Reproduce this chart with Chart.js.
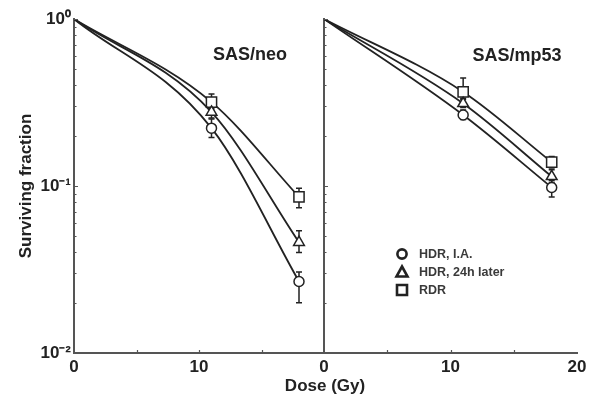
<!DOCTYPE html>
<html>
<head>
<meta charset="utf-8">
<script src="https://cdn.jsdelivr.net/npm/chart.js@4.4.0/dist/chart.umd.min.js"></script>
<style>
  html, body { margin: 0; padding: 0; background: #fff; }
  #wrap { position: relative; width: 592px; height: 394px; }
  #wrap canvas { position: absolute; left: 0; top: 0; }
</style>
</head>
<body>
<div id="wrap">
  <canvas id="neoChart" width="592" height="394"></canvas>
  <canvas id="mp53Chart" width="592" height="394"></canvas>
</div>
<script>
// dose points (Gy)
const doses = [0, 11, 18];
const seriesNames = ["HDR, I.A.", "HDR, 24h later", "RDR"];
const pointStyles = ["circle", "triangle", "rect"];

// SAS/neo surviving fraction
const neoHdrIA = [1, 0.222, 0.0268];
const neoHdr24 = [1, 0.277, 0.046];
const neoRdr = [1, 0.318, 0.086];
// error bars [low, high]
const neoHdrIAErr = [null, [0.195, 0.252], [0.020, 0.0305]];
const neoHdr24Err = [null, [0.255, 0.30], [0.040, 0.054]];
const neoRdrErr = [null, [0.29, 0.355], [0.074, 0.097]];

// SAS/mp53 surviving fraction
const mp53HdrIA = [1, 0.266, 0.098];
const mp53Hdr24 = [1, 0.312, 0.114];
const mp53Rdr = [1, 0.366, 0.139];
const mp53HdrIAErr = [null, [0.25, 0.285], [0.086, 0.108]];
const mp53Hdr24Err = [null, [0.295, 0.335], [0.105, 0.125]];
const mp53RdrErr = [null, [0.33, 0.443], [0.128, 0.15]];

// axis ticks
const neoXTicks = [0, 10];
const mp53XTicks = [0, 10, 20];
const xMinorTicks = [5, 10, 15];
const yTickValues = [1, 0.1, 0.01];
const yTickLabels = ["10\u2070", "10\u207B\u00B9", "10\u207B\u00B2"];

const inkColor = "#222";
const axisColor = "#555";
const fontFamily = "'Liberation Sans', Arial, Helvetica, sans-serif";
const pointSizes = [5, 6.2, 7.2];

function isDecade(v) {
  return yTickValues.some(t => Math.abs(t - v) < 1e-9);
}

function buildDatasets(values, errors) {
  return values.map((vals, i) => ({
    label: seriesNames[i],
    data: doses.map((d, j) => ({ x: d, y: vals[j] })),
    errorBars: errors[i],
    borderColor: inkColor,
    borderWidth: 1.8,
    cubicInterpolationMode: "monotone",
    fill: false,
    pointStyle: pointStyles[i],
    pointRadius: doses.map((d, j) => (j === 0 ? 0 : pointSizes[i])),
    pointBackgroundColor: "#fff",
    pointBorderColor: inkColor,
    pointBorderWidth: 1.5
  }));
}

const errorBarPlugin = {
  id: "errorBars",
  beforeDatasetsDraw(chart) {
    const { ctx, scales: { x, y } } = chart;
    ctx.save();
    ctx.strokeStyle = inkColor;
    ctx.lineWidth = 1.5;
    chart.data.datasets.forEach(ds => {
      (ds.errorBars || []).forEach((e, j) => {
        if (!e) return;
        const px = x.getPixelForValue(ds.data[j].x);
        const lo = y.getPixelForValue(e[0]);
        const hi = y.getPixelForValue(e[1]);
        ctx.beginPath();
        ctx.moveTo(px, lo); ctx.lineTo(px, hi);
        ctx.moveTo(px - 3, lo); ctx.lineTo(px + 3, lo);
        ctx.moveTo(px - 3, hi); ctx.lineTo(px + 3, hi);
        ctx.stroke();
      });
    });
    ctx.restore();
  }
};

const innerTicksPlugin = {
  id: "innerTicks",
  afterDraw(chart) {
    const { ctx, chartArea: a, scales: { x, y } } = chart;
    ctx.save();
    ctx.strokeStyle = axisColor;
    ctx.lineWidth = 1.2;
    ctx.beginPath();
    y.ticks.forEach(t => {
      const py = Math.round(y.getPixelForValue(t.value)) + 0.5;
      ctx.moveTo(a.left, py);
      ctx.lineTo(a.left + (isDecade(t.value) ? 4 : 2.5), py);
    });
    xMinorTicks.forEach(v => {
      const px = Math.round(x.getPixelForValue(v)) + 0.5;
      ctx.moveTo(px, a.bottom);
      ctx.lineTo(px, a.bottom - 3);
    });
    ctx.stroke();
    ctx.restore();
  }
};

function drawMarker(ctx, style, cx, cy) {
  ctx.beginPath();
  if (style === "circle") {
    ctx.arc(cx, cy, 4.6, 0, Math.PI * 2);
  } else if (style === "triangle") {
    ctx.moveTo(cx, cy - 5.5);
    ctx.lineTo(cx + 5.5, cy + 4.5);
    ctx.lineTo(cx - 5.5, cy + 4.5);
    ctx.closePath();
  } else {
    ctx.rect(cx - 5, cy - 5, 10, 10);
  }
  ctx.stroke();
}

const decorPlugin = {
  id: "decor",
  afterDraw(chart, args, opts) {
    const { ctx, chartArea: a } = chart;
    ctx.save();
    ctx.fillStyle = inkColor;
    ctx.font = "bold 18px " + fontFamily;
    ctx.textAlign = "center";
    ctx.textBaseline = "alphabetic";
    ctx.fillText(opts.title, a.left + opts.titleDx, a.top + opts.titleDy);

    if (opts.xTitle) {
      ctx.font = "bold 17px " + fontFamily;
      ctx.fillText(opts.xTitle, opts.xTitleX, opts.xTitleY);
    }

    if (opts.legend) {
      const mx = a.left + 78;
      seriesNames.forEach((name, i) => {
        const py = a.top + 235 + i * 18;
        ctx.strokeStyle = inkColor;
        ctx.lineWidth = 2.6;
        drawMarker(ctx, pointStyles[i], mx, py);
        ctx.fillStyle = "#3a3a3a";
        ctx.font = "bold 12.5px " + fontFamily;
        ctx.textAlign = "left";
        ctx.textBaseline = "middle";
        ctx.fillText(name, mx + 17, py + 1);
      });
    }
    ctx.restore();
  }
};

function logTicks(scale) {
  const ticks = [];
  for (let e = -2; e <= 0; e++) {
    for (let m = 1; m <= 9; m++) {
      const v = m * Math.pow(10, e);
      if (v <= 1.0000001) ticks.push({ value: v });
    }
  }
  scale.ticks = ticks;
}

function makePanel(id, values, errors, shownXTicks, isLeft, decor) {
  const tickFont = { family: fontFamily, size: 17, weight: "bold" };
  return new Chart(document.getElementById(id), {
    type: "line",
    data: { datasets: buildDatasets(values, errors) },
    options: {
      responsive: false,
      animation: false,
      events: [],
      layout: {
        padding: isLeft
          ? { left: 0, top: 19, right: 268, bottom: 0 }
          : { left: 324, top: 19, right: 15, bottom: 0 }
      },
      scales: {
        x: {
          type: "linear",
          min: 0,
          max: 20,
          afterFit: s => { s.height = 41; },
          grid: { display: false, drawTicks: false },
          border: { display: true, color: axisColor, width: 2 },
          ticks: {
            stepSize: 10,
            autoSkip: false,
            maxRotation: 0,
            padding: 4,
            color: inkColor,
            font: tickFont,
            callback: v => (shownXTicks.includes(v) ? String(v) : "")
          }
        },
        y: {
          type: "logarithmic",
          min: 0.01,
          max: 1,
          afterBuildTicks: logTicks,
          afterFit: s => { s.width = isLeft ? 74 : 0; },
          grid: { display: false, drawTicks: false },
          border: { display: true, color: axisColor, width: 2 },
          ticks: {
            display: isLeft,
            autoSkip: false,
            padding: 3,
            color: inkColor,
            font: tickFont,
            callback: v => {
              const k = yTickValues.findIndex(t => Math.abs(t - v) < 1e-9);
              return k >= 0 ? yTickLabels[k] : "";
            }
          },
          title: {
            display: isLeft,
            text: "Surviving fraction",
            color: inkColor,
            font: { family: fontFamily, size: 17, weight: "bold" },
            padding: { top: 16, bottom: 0 }
          }
        }
      },
      plugins: {
        legend: { display: false },
        tooltip: { enabled: false },
        decor: decor
      }
    },
    plugins: [errorBarPlugin, innerTicksPlugin, decorPlugin]
  });
}

makePanel("neoChart", [neoHdrIA, neoHdr24, neoRdr], [neoHdrIAErr, neoHdr24Err, neoRdrErr], neoXTicks, true,
  { title: "SAS/neo", titleDx: 176, titleDy: 41, legend: false, xTitle: "Dose (Gy)", xTitleX: 325, xTitleY: 391 });
makePanel("mp53Chart", [mp53HdrIA, mp53Hdr24, mp53Rdr], [mp53HdrIAErr, mp53Hdr24Err, mp53RdrErr], mp53XTicks, false,
  { title: "SAS/mp53", titleDx: 193, titleDy: 42, legend: true });
</script>
</body>
</html>
